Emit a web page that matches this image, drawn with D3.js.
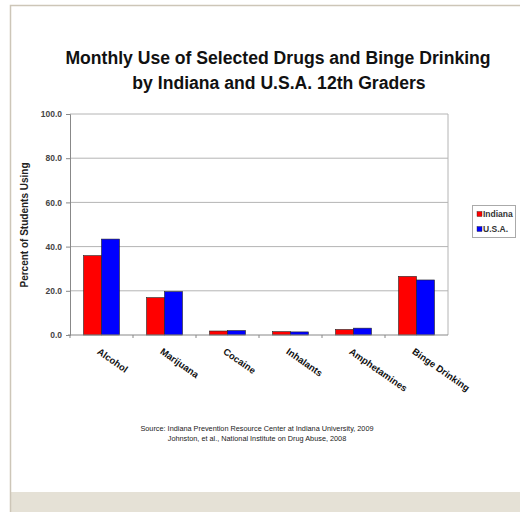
<!DOCTYPE html>
<html>
<head>
<meta charset="utf-8">
<script src="https://cdn.jsdelivr.net/npm/d3@7"></script>
<style>
  html, body { margin: 0; padding: 0; background: #fff; }
  svg { display: block; font-family: "Liberation Sans", Arial, sans-serif; }
</style>
</head>
<body>
<svg id="chart" width="520" height="512"></svg>
<script>
let drugs = ['Alcohol', 'Marijuana', 'Cocaine', 'Inhalants', 'Amphetamines', 'Binge Drinking']
let indiana = [35.9, 16.9, 1.8, 1.5, 2.5, 26.5]
let usa = [43.4, 19.6, 2.0, 1.4, 3.1, 24.9]
let seriesNames = ['Indiana', 'U.S.A.']
let seriesColors = ['#ff0000', '#0000ff']
let yTicks = [0, 20, 40, 60, 80, 100]

let svg = d3.select('#chart')

// page frame
svg.append('rect')
    .attr('x', 10).attr('y', 492).attr('width', 510).attr('height', 20)
    .attr('fill', '#e5e1d6')
svg.append('path')
    .attr('d', 'M10.5,512 V5.5 H520')
    .attr('fill', 'none')
    .attr('stroke', '#cdc6b8')
    .attr('stroke-width', 1.5)

// title
let title = svg.append('text')
    .attr('text-anchor', 'middle')
    .attr('font-weight', 'bold')
    .attr('font-size', 17.6)
    .attr('fill', '#111')
title.append('tspan').attr('x', 278).attr('y', 64).text('Monthly Use of Selected Drugs and Binge Drinking')
title.append('tspan').attr('x', 279).attr('y', 89).text('by Indiana and U.S.A. 12th Graders')

let plotLeft = 70, plotRight = 448, plotTop = 114, plotBottom = 335

let x = d3.scaleBand().domain(drugs).range([plotLeft, plotRight]).paddingInner(0.43).paddingOuter(0.215)
let xs = d3.scaleBand().domain(seriesNames).range([0, x.bandwidth()])
let y = d3.scaleLinear().domain([0, 100]).range([plotBottom, plotTop])

// gridlines
svg.append('g')
    .selectAll('line')
    .data(yTicks.slice(1))
    .enter()
    .append('line')
    .attr('x1', plotLeft).attr('x2', plotRight)
    .attr('y1', (d) => y(d)).attr('y2', (d) => y(d))
    .attr('stroke', '#b4b4b4')
    .attr('stroke-width', 1)

// right border of plot
svg.append('line')
    .attr('x1', plotRight).attr('x2', plotRight).attr('y1', plotTop).attr('y2', plotBottom)
    .attr('stroke', '#b4b4b4')

// bars
let rows = drugs.map((d, i) => ({ name: d, values: [indiana[i], usa[i]] }))
let groups = svg.append('g').selectAll('g')
    .data(rows)
    .enter()
    .append('g')
    .attr('transform', (d) => 'translate(' + x(d.name) + ',0)')

groups.selectAll('rect')
    .data((d) => d.values.map((v, j) => ({ series: seriesNames[j], value: v, color: seriesColors[j] })))
    .enter()
    .append('rect')
    .attr('x', (d) => xs(d.series))
    .attr('width', xs.bandwidth())
    .attr('y', (d) => y(d.value))
    .attr('height', (d) => y(0) - y(d.value))
    .attr('fill', (d) => d.color)
    .attr('stroke', '#222')
    .attr('stroke-width', 0.6)

// y axis
let yAxis = svg.append('g')
    .attr('transform', 'translate(' + plotLeft + ',0)')
    .call(d3.axisLeft(y).tickValues(yTicks).tickFormat(d3.format('.1f')).tickSize(4).tickPadding(4))
yAxis.select('.domain').attr('stroke', '#888')
yAxis.selectAll('.tick line').attr('stroke', '#888')
yAxis.selectAll('.tick text')
    .attr('font-size', 8.5)
    .attr('font-weight', 'bold')
    .attr('fill', '#444')
    .attr('font-family', '"Liberation Sans", Arial, sans-serif')

// x axis
let xAxis = svg.append('g')
    .attr('transform', 'translate(0,' + plotBottom + ')')
xAxis.append('line')
    .attr('x1', plotLeft - 2).attr('x2', plotRight).attr('y1', 0).attr('y2', 0)
    .attr('stroke', '#888')
xAxis.selectAll('line.tk')
    .data(drugs)
    .enter()
    .append('line')
    .attr('class', 'tk')
    .attr('x1', (d) => x(d) - x.step() * x.paddingInner() / 2)
    .attr('x2', (d) => x(d) - x.step() * x.paddingInner() / 2)
    .attr('y1', 0).attr('y2', 3)
    .attr('stroke', '#888')

xAxis.selectAll('text')
    .data(drugs)
    .enter()
    .append('text')
    .attr('transform', (d) => 'translate(' + (x(d) + x.bandwidth() / 2 - 5) + ',18) rotate(35)')
    .attr('font-size', 9.5)
    .attr('font-weight', 'bold')
    .attr('fill', '#111')
    .text((d) => d)

// y label
svg.append('text')
    .attr('transform', 'translate(28,225) rotate(-90)')
    .attr('text-anchor', 'middle')
    .attr('font-size', 10)
    .attr('font-weight', 'bold')
    .attr('fill', '#222')
    .text('Percent of Students Using')

// legend
let legend = svg.append('g').attr('transform', 'translate(472,205)')
legend.append('rect')
    .attr('x', 0.5).attr('y', 0.5).attr('width', 43).attr('height', 32)
    .attr('fill', '#fff')
    .attr('stroke', '#aaa')
let items = legend.selectAll('g')
    .data(seriesNames)
    .enter()
    .append('g')
    .attr('transform', (d, i) => 'translate(5,' + (9 + i * 15) + ')')
items.append('rect')
    .attr('x', 0).attr('y', -2.5).attr('width', 5).attr('height', 5)
    .attr('fill', (d, i) => seriesColors[i])
    .attr('stroke', '#222').attr('stroke-width', 0.4)
items.append('text')
    .attr('x', 6).attr('y', 3)
    .attr('font-size', 8.5)
    .attr('font-weight', 'bold')
    .attr('fill', '#333')
    .text((d) => d)

// source
let source = svg.append('text')
    .attr('text-anchor', 'middle')
    .attr('font-size', 7.3)
    .attr('fill', '#222')
source.append('tspan').attr('x', 257).attr('y', 431).text('Source: Indiana Prevention Resource Center at Indiana University, 2009')
source.append('tspan').attr('x', 257).attr('y', 441).text('Johnston, et al., National Institute on Drug Abuse, 2008')
</script>
</body>
</html>
